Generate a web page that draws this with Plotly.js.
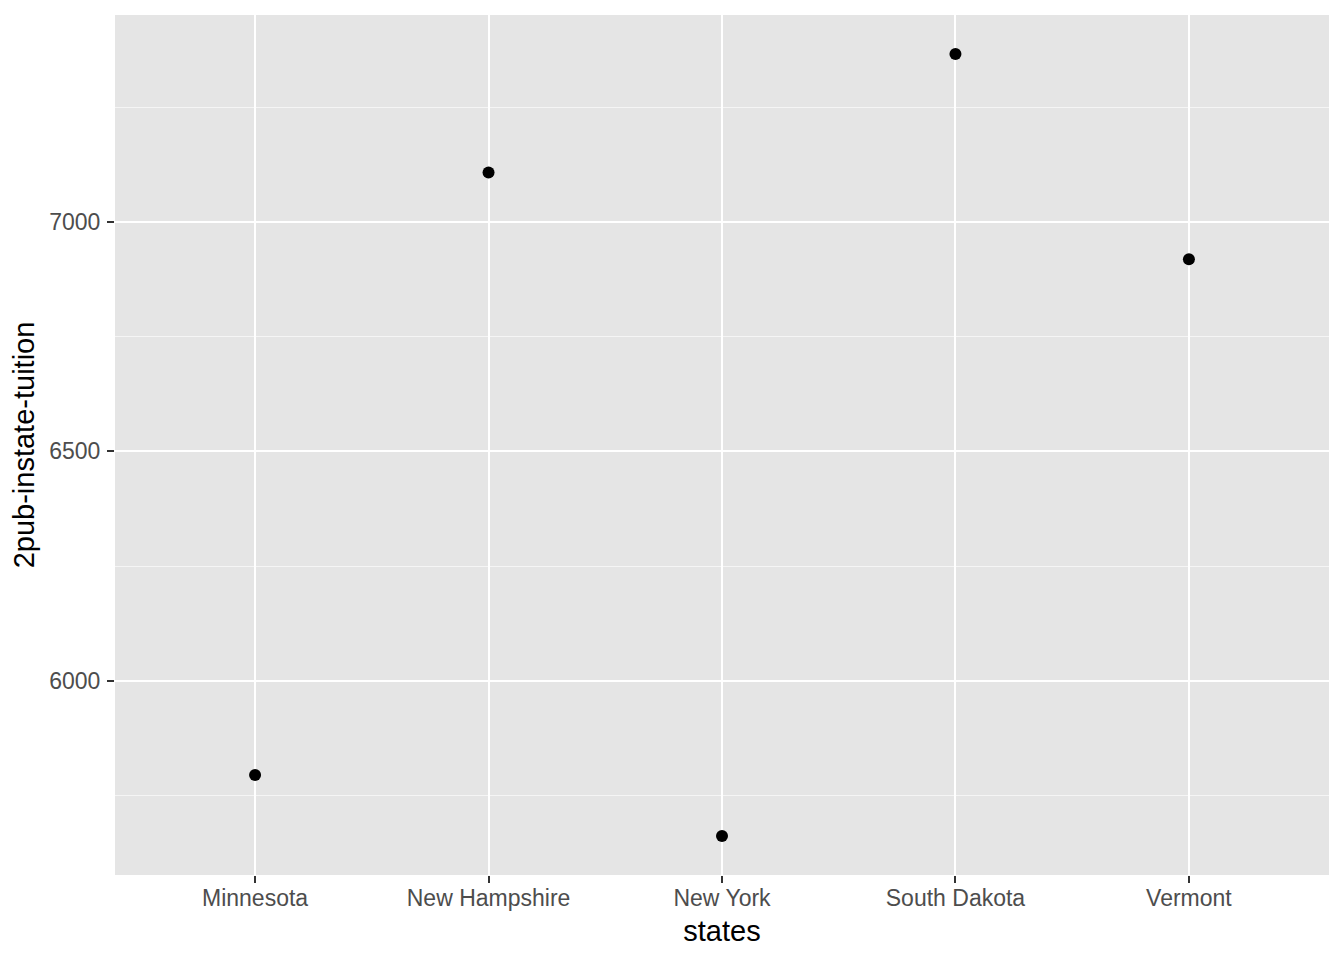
<!DOCTYPE html>
<html>
<head>
<meta charset="utf-8">
<script src="https://cdn.plot.ly/plotly-3.0.1.min.js"></script>
<style>html,body{margin:0;padding:0;background:#fff;}#chart{width:1344px;height:960px;}</style>
</head>
<body>
<div id="chart"></div>
<script>
const states = ["Minnesota", "New Hampshire", "New York", "South Dakota", "Vermont"];
const tuition = [5795, 7108, 5662, 7366, 6919];
const yTickVals = [6000, 6500, 7000];
const yTickText = ["6000", "6500", "7000"];

const ymin = Math.min(...tuition), ymax = Math.max(...tuition);
const pad = (ymax - ymin) * 0.05;

const trace = {
  x: states,
  y: tuition,
  type: "scatter",
  mode: "markers",
  marker: {color: "#000000", size: 12},
  hoverinfo: "x+y"
};

const layout = {
  width: 1344,
  height: 960,
  paper_bgcolor: "#ffffff",
  plot_bgcolor: "#e5e5e5",
  margin: {l: 115, r: 15, t: 15, b: 85, autoexpand: false},
  showlegend: false,
  font: {family: "Liberation Sans, Arial, sans-serif", color: "#4d4d4d"},
  xaxis: {
    type: "category",
    categoryorder: "array",
    categoryarray: states,
    range: [-0.6, states.length - 0.4],
    showgrid: true,
    gridcolor: "#ffffff",
    gridwidth: 2,
    zeroline: false,
    showline: false,
    automargin: false,
    ticks: "outside",
    ticklen: 7,
    tickwidth: 2,
    tickcolor: "#333333",
    ticklabelstandoff: -5,
    tickfont: {size: 23, color: "#4d4d4d"},
    title: {text: "states", font: {size: 29, color: "#000000"}, standoff: 11}
  },
  yaxis: {
    range: [ymin - pad, ymax + pad],
    tickmode: "array",
    tickvals: yTickVals,
    ticktext: yTickText,
    showgrid: true,
    gridcolor: "#ffffff",
    gridwidth: 2,
    zeroline: false,
    showline: false,
    automargin: false,
    ticks: "outside",
    ticklen: 7,
    tickwidth: 2,
    tickcolor: "#333333",
    ticklabelstandoff: 2,
    tickfont: {size: 23, color: "#4d4d4d"},
    minor: {dtick: 250, tick0: 0, showgrid: true, gridcolor: "#f5f5f5", gridwidth: 1, ticks: ""},
    title: {text: "2pub-instate-tuition", font: {size: 29, color: "#000000"}, standoff: 6}
  }
};

Plotly.newPlot("chart", [trace], layout, {displayModeBar: false, staticPlot: true});
</script>
</body>
</html>
